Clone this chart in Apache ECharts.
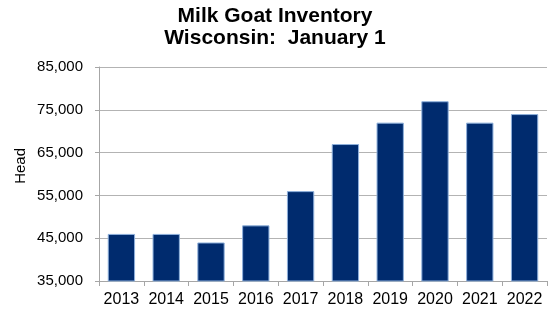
<!DOCTYPE html>
<html>
<head>
<meta charset="utf-8">
<script src="https://cdn.jsdelivr.net/npm/echarts@6/dist/echarts.min.js"></script>
<style>html,body{margin:0;padding:0;background:#fff}#c{width:550px;height:309px}</style>
</head>
<body>
<div id="c"></div>
<script>
const categories = ['2013','2014','2015','2016','2017','2018','2019','2020','2021','2022'];
const headValues = [46000, 46000, 44000, 48000, 56000, 67000, 72000, 77000, 72000, 74000];
const yTicks = [35000, 45000, 55000, 65000, 75000, 85000];

const chart = echarts.init(document.getElementById('c'), null, {renderer: 'canvas'});
const font = '"Liberation Sans", Arial, sans-serif';
chart.setOption({
  animation: false,
  title: {
    text: 'Milk Goat Inventory\nWisconsin:  January 1',
    left: 'center',
    top: 5,
    padding: 0,
    textStyle: {fontFamily: font, fontSize: 21, fontWeight: 'bold', color: '#000', lineHeight: 22}
  },
  graphic: [{
    type: 'text', left: 13, top: 148, rotation: Math.PI / 2,
    style: {text: 'Head', font: '15px ' + font, fill: '#000'}
  }],
  grid: {left: 99, right: 3, top: 67, bottom: 28, containLabel: false},
  xAxis: {
    type: 'category',
    data: categories,
    boundaryGap: true,
    axisLine: {lineStyle: {color: '#a6a6a6', width: 1}},
    axisTick: {show: true, alignWithLabel: false, length: 5, lineStyle: {color: '#a6a6a6'}},
    axisLabel: {fontFamily: font, fontSize: 16, color: '#000', margin: 11, interval: 0}
  },
  yAxis: {
    type: 'value',
    min: yTicks[0], max: yTicks[yTicks.length - 1], interval: 10000,
    axisLine: {show: true, lineStyle: {color: '#a6a6a6'}},
    axisTick: {show: true, length: 4, lineStyle: {color: '#a6a6a6'}},
    splitLine: {lineStyle: {color: '#b3b3b3', width: 1}},
    axisLabel: {
      fontFamily: font, fontSize: 15, color: '#000', margin: 16,
      formatter: v => v.toLocaleString('en-US')
    }
  },
  series: [{
    type: 'bar',
    data: headValues,
    barWidth: '61%',
    itemStyle: {color: '#002b6e', borderColor: '#8eb1dc', borderWidth: 1}
  }]
});
</script>
</body>
</html>
